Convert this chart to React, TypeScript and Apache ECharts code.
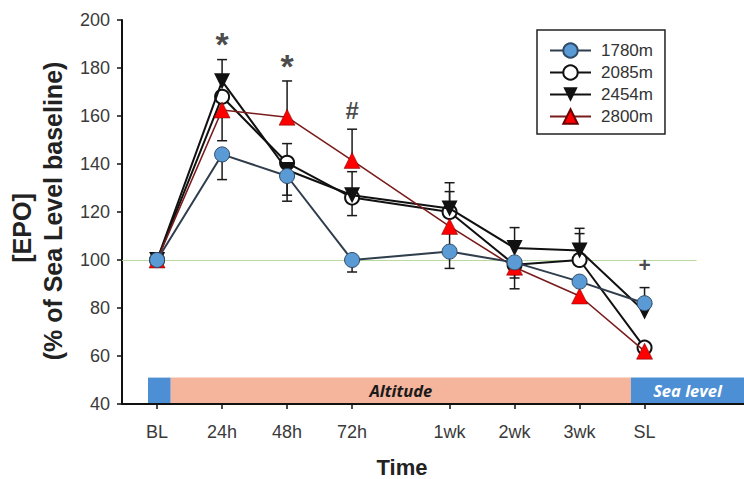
import React, { useEffect, useRef } from "react";
import * as echarts from "echarts";

// ---- data ----
const timeLabels = ["BL", "24h", "48h", "72h", "1wk", "2wk", "3wk", "SL"];
const timePos = [0, 1, 2, 3, 4.5, 5.5, 6.5, 7.5];
const seriesNames = ["1780m", "2085m", "2454m", "2800m"];

const epo1780 = [100, 144, 135, 100, 103.5, 99, 91, 82];
const epo2085 = [100, 168, 140.5, 126, 120, 98, 100, 63.5];
const epo2454 = [100, 174.5, 137.5, 127, 121.5, 105, 104, 78.5];
const epo2800 = [100, 162.5, 159.5, 141.5, 114, 97, 85, 62];

const upper1780 = [null, null, null, null, null, null, null, 88.5];
const lower1780 = [null, 133.5, 127, 95, 96.5, 92.5, null, null];
const upper2085 = [null, null, 148.5, null, 128.5, null, 111, null];
const lower2085 = [null, null, null, null, null, 88, null, null];
const upper2454 = [null, 183.5, null, 136.8, 132.2, 113.5, 113.2, null];
const lower2454 = [null, null, 124.5, 118.5, null, null, null, null];
const upper2800 = [null, null, 174.6, 154.5, null, null, null, null];
const lower2800 = [null, 149.7, null, null, 104, 94, 82, null];

const annotPos = [1, 2, 3, 7.5];
const annotY = [190, 181, 162.5, 98.3];
const annotText = ["*", "*", "#", "+"];

const phaseNames = ["", "Altitude", "Sea level"];
const phaseStart = [-0.14, 0.21, 7.29];
const phaseEnd = [0.21, 7.29, 9.03];
const phaseBottom = 40;
const phaseTop = 51;

const baselineValue = 100;
const baselineEnd = 8.3;

const FONT = "'Liberation Sans', Arial, sans-serif";

export default function App() {
  const ref = useRef<HTMLDivElement>(null);

  useEffect(() => {
    if (!ref.current) return;
    const chart = echarts.init(ref.current, null, { renderer: "svg" });

    const toPairs = (arr: number[]) => arr.map((v, i) => [timePos[i], v]);

    const groups = [
      { mean: epo1780, up: upper1780, lo: lower1780 },
      { mean: epo2085, up: upper2085, lo: lower2085 },
      { mean: epo2454, up: upper2454, lo: lower2454 },
      { mean: epo2800, up: upper2800, lo: lower2800 },
    ];
    const errItems: number[][] = [];
    groups.forEach((g) => {
      g.mean.forEach((m, i) => {
        if (g.up[i] != null) errItems.push([timePos[i], m, g.up[i] as number]);
        if (g.lo[i] != null) errItems.push([timePos[i], m, g.lo[i] as number]);
      });
    });

    const phaseColors = ["#4d8fd5", "#f5b49c", "#4d8fd5"];
    const phaseTextColors = ["#fff", "#1a1a1a", "#ffffff"];
    const markAreaData = phaseNames.map((name, i) => [
      {
        name,
        xAxis: phaseStart[i],
        yAxis: phaseBottom,
        itemStyle: { color: phaseColors[i] },
        label: {
          show: true,
          position: "inside",
          color: phaseTextColors[i],
          fontStyle: "italic",
          fontWeight: "bold",
          fontSize: 16.5,
          fontFamily: "'Open Sans', sans-serif",
        },
      },
      { xAxis: phaseEnd[i], yAxis: phaseTop },
    ]);

    const annotSize: Record<string, number> = { "*": 34, "#": 24, "+": 21 };

    const option: any = {
      animation: false,
      textStyle: { fontFamily: FONT },
      grid: { left: 122, right: 0, top: 20, bottom: 75 },
      xAxis: {
        type: "value",
        min: -0.54,
        max: 9.03,
        splitLine: { show: false },
        axisLine: { onZero: false, lineStyle: { color: "#111", width: 2 } },
        axisTick: {
          show: true,
          customValues: timePos,
          length: 5,
          lineStyle: { color: "#111", width: 1.5 },
        },
        axisLabel: {
          customValues: timePos,
          formatter: (v: number) => {
            const idx = timePos.findIndex((p) => Math.abs(p - v) < 1e-6);
            return idx >= 0 ? timeLabels[idx] : "";
          },
          fontSize: 18,
          color: "#3a3a3a",
          margin: 19,
          fontFamily: FONT,
        },
      },
      yAxis: {
        type: "value",
        min: 40,
        max: 200,
        interval: 20,
        splitLine: { show: false },
        axisLine: { show: true, onZero: false, lineStyle: { color: "#111", width: 2 } },
        axisTick: { show: true, length: 5, lineStyle: { color: "#111", width: 1.5 } },
        axisLabel: { fontSize: 18, color: "#3a3a3a", margin: 12, fontFamily: FONT },
      },
      legend: {
        data: seriesNames,
        orient: "vertical",
        left: 537,
        top: 30,
        borderColor: "#222",
        borderWidth: 1.5,
        padding: [12, 12, 9, 12],
        itemWidth: 41,
        itemHeight: 18,
        itemGap: 5,
        textStyle: { fontSize: 17, color: "#333", fontFamily: FONT, padding: [0, 0, 0, 5] },
      },
      graphic: [
        {
          type: "text",
          x: 22,
          y: 228,
          rotation: Math.PI / 2,
          style: {
            text: "[EPO]",
            align: "center",
            verticalAlign: "middle",
            fontSize: 25,
            fontWeight: "bold",
            fill: "#222",
            fontFamily: FONT,
          },
        },
        {
          type: "text",
          x: 53,
          y: 211,
          rotation: Math.PI / 2,
          style: {
            text: "(% of Sea Level baseline)",
            align: "center",
            verticalAlign: "middle",
            fontSize: 25,
            fontWeight: "bold",
            fill: "#222",
            fontFamily: FONT,
          },
        },
        {
          type: "text",
          x: 402,
          y: 467,
          style: {
            text: "Time",
            align: "center",
            verticalAlign: "middle",
            fontSize: 22,
            fontWeight: "bold",
            fill: "#222",
            fontFamily: FONT,
          },
        },
      ],
      series: [
        {
          type: "custom",
          name: "err",
          z: 1,
          silent: true,
          renderItem: (_p: any, api: any) => {
            const x = api.value(0);
            const m = api.value(1);
            const b = api.value(2);
            const p1 = api.coord([x, m]);
            const p2 = api.coord([x, b]);
            return {
              type: "group",
              children: [
                {
                  type: "line",
                  shape: { x1: p1[0], y1: p1[1], x2: p2[0], y2: p2[1] },
                  style: { stroke: "#1a1a1a", lineWidth: 1.5 },
                },
                {
                  type: "line",
                  shape: { x1: p2[0] - 5, y1: p2[1], x2: p2[0] + 5, y2: p2[1] },
                  style: { stroke: "#1a1a1a", lineWidth: 1.5 },
                },
              ],
            };
          },
          encode: { x: 0, y: [1, 2] },
          data: errItems,
          markArea: { silent: true, z: 0, data: markAreaData },
          markLine: {
            silent: true,
            z: 1,
            symbol: "none",
            label: { show: false },
            lineStyle: { color: "#b9d99f", width: 1.2, type: "solid" },
            data: [[{ coord: [-0.54, baselineValue] }, { coord: [baselineEnd, baselineValue] }]],
          },
        },
        {
          type: "line",
          name: seriesNames[1],
          z: 2,
          data: toPairs(epo2085),
          symbol: "circle",
          symbolSize: 14,
          lineStyle: { color: "#111", width: 2 },
          itemStyle: { color: "#fff", borderColor: "#111", borderWidth: 2 },
        },
        {
          type: "line",
          name: seriesNames[2],
          z: 3,
          data: toPairs(epo2454),
          symbol: "triangle",
          symbolRotate: 180,
          symbolSize: 16,
          lineStyle: { color: "#111", width: 2 },
          itemStyle: { color: "#111" },
        },
        {
          type: "line",
          name: seriesNames[3],
          z: 4,
          data: toPairs(epo2800),
          symbol: "triangle",
          symbolSize: 16,
          lineStyle: { color: "#7a1c1c", width: 1.6 },
          itemStyle: { color: "#ff0000", borderColor: "#6a0000", borderWidth: 0.5 },
        },
        {
          type: "line",
          name: seriesNames[0],
          z: 5,
          data: toPairs(epo1780),
          symbol: "circle",
          symbolSize: 15,
          lineStyle: { color: "#2f3d4c", width: 2 },
          itemStyle: { color: "#5b9bd5", borderColor: "#2f4a66", borderWidth: 1 },
        },
        {
          type: "scatter",
          name: "annotations",
          z: 6,
          silent: true,
          symbolSize: 1,
          itemStyle: { color: "rgba(0,0,0,0)" },
          data: annotPos.map((x, i) => ({
            value: [x, annotY[i]],
            name: annotText[i],
            label: { fontSize: annotSize[annotText[i]] },
          })),
          label: {
            show: true,
            position: "inside",
            formatter: "{b}",
            color: "#1a1a1a",
            fontWeight: "bold",
            fontFamily: FONT,
          },
        },
      ],
    };

    chart.setOption(option);
    return () => chart.dispose();
  }, []);

  return (
    <div
      ref={ref}
      style={{ position: "fixed", left: 0, top: 0, width: 744, height: 479, background: "#fff" }}
    />
  );
}
